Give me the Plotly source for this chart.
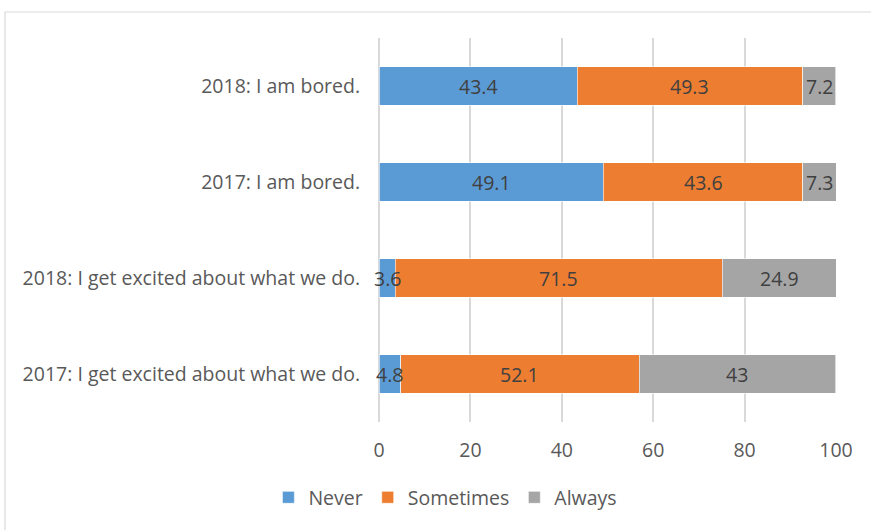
import plotly.graph_objects as go

# Survey items (listed bottom to top)
items = [
    "2017: I get excited about what we do.",
    "2018: I get excited about what we do.",
    "2017: I am bored.",
    "2018: I am bored.",
]
never = [4.8, 3.6, 49.1, 43.4]
sometimes = [52.1, 71.5, 43.6, 49.3]
always = [43, 24.9, 7.3, 7.2]

series = [
    ("Never", never, "#5B9BD5"),
    ("Sometimes", sometimes, "#ED7D31"),
    ("Always", always, "#A5A5A5"),
]

FONT = "'Open Sans', sans-serif"
SIZE = 19.5
GRID = "#d9d9d9"

fig = go.Figure()
base = [0.0] * len(items)
annotations = []
for name, vals, color in series:
    fig.add_trace(go.Bar(
        name=name, y=items, x=vals, orientation="h",
        marker=dict(color=color, line=dict(color="white", width=0.6)),
        hoverinfo="x+name",
    ))
    for i, v in enumerate(vals):
        annotations.append(dict(
            x=base[i] + v / 2, y=items[i], xref="x", yref="y",
            text=f"{v:g}", showarrow=False,
            font=dict(family=FONT, size=SIZE, color="#404040"),
        ))
        base[i] += v

fig.update_layout(
    barmode="stack",
    bargap=0.6,
    width=871, height=530,
    margin=dict(l=379, r=35, t=38, b=108),
    paper_bgcolor="white", plot_bgcolor="white",
    font=dict(family=FONT, size=SIZE, color="#595959"),
    annotations=annotations,
    legend=dict(
        orientation="h", x=-0.242, xanchor="left", y=-0.197, yanchor="middle",
        font=dict(family=FONT, size=SIZE, color="#595959"),
        itemwidth=30, traceorder="normal",
    ),
    shapes=[dict(
        type="rect", xref="paper", yref="paper",
        x0=-374 / 457, x1=1 + 40 / 457, y0=-120 / 384, y1=1 + 26 / 384,
        line=dict(color=GRID, width=1.2), fillcolor="rgba(0,0,0,0)",
        layer="below",
    )],
)
fig.update_xaxes(
    range=[0, 100], dtick=20, showgrid=True, gridcolor=GRID, gridwidth=1.5,
    zeroline=True, zerolinecolor=GRID, zerolinewidth=1.5, showline=False,
    ticks="outside", ticklen=11, tickcolor="rgba(0,0,0,0)",
    tickfont=dict(family=FONT, size=SIZE, color="#595959"),
)
fig.update_yaxes(
    showgrid=False, zeroline=False, showline=False,
    ticks="outside", ticklen=14, tickcolor="rgba(0,0,0,0)",
    tickfont=dict(family=FONT, size=SIZE, color="#595959"),
)

fig.write_html("out.html")
